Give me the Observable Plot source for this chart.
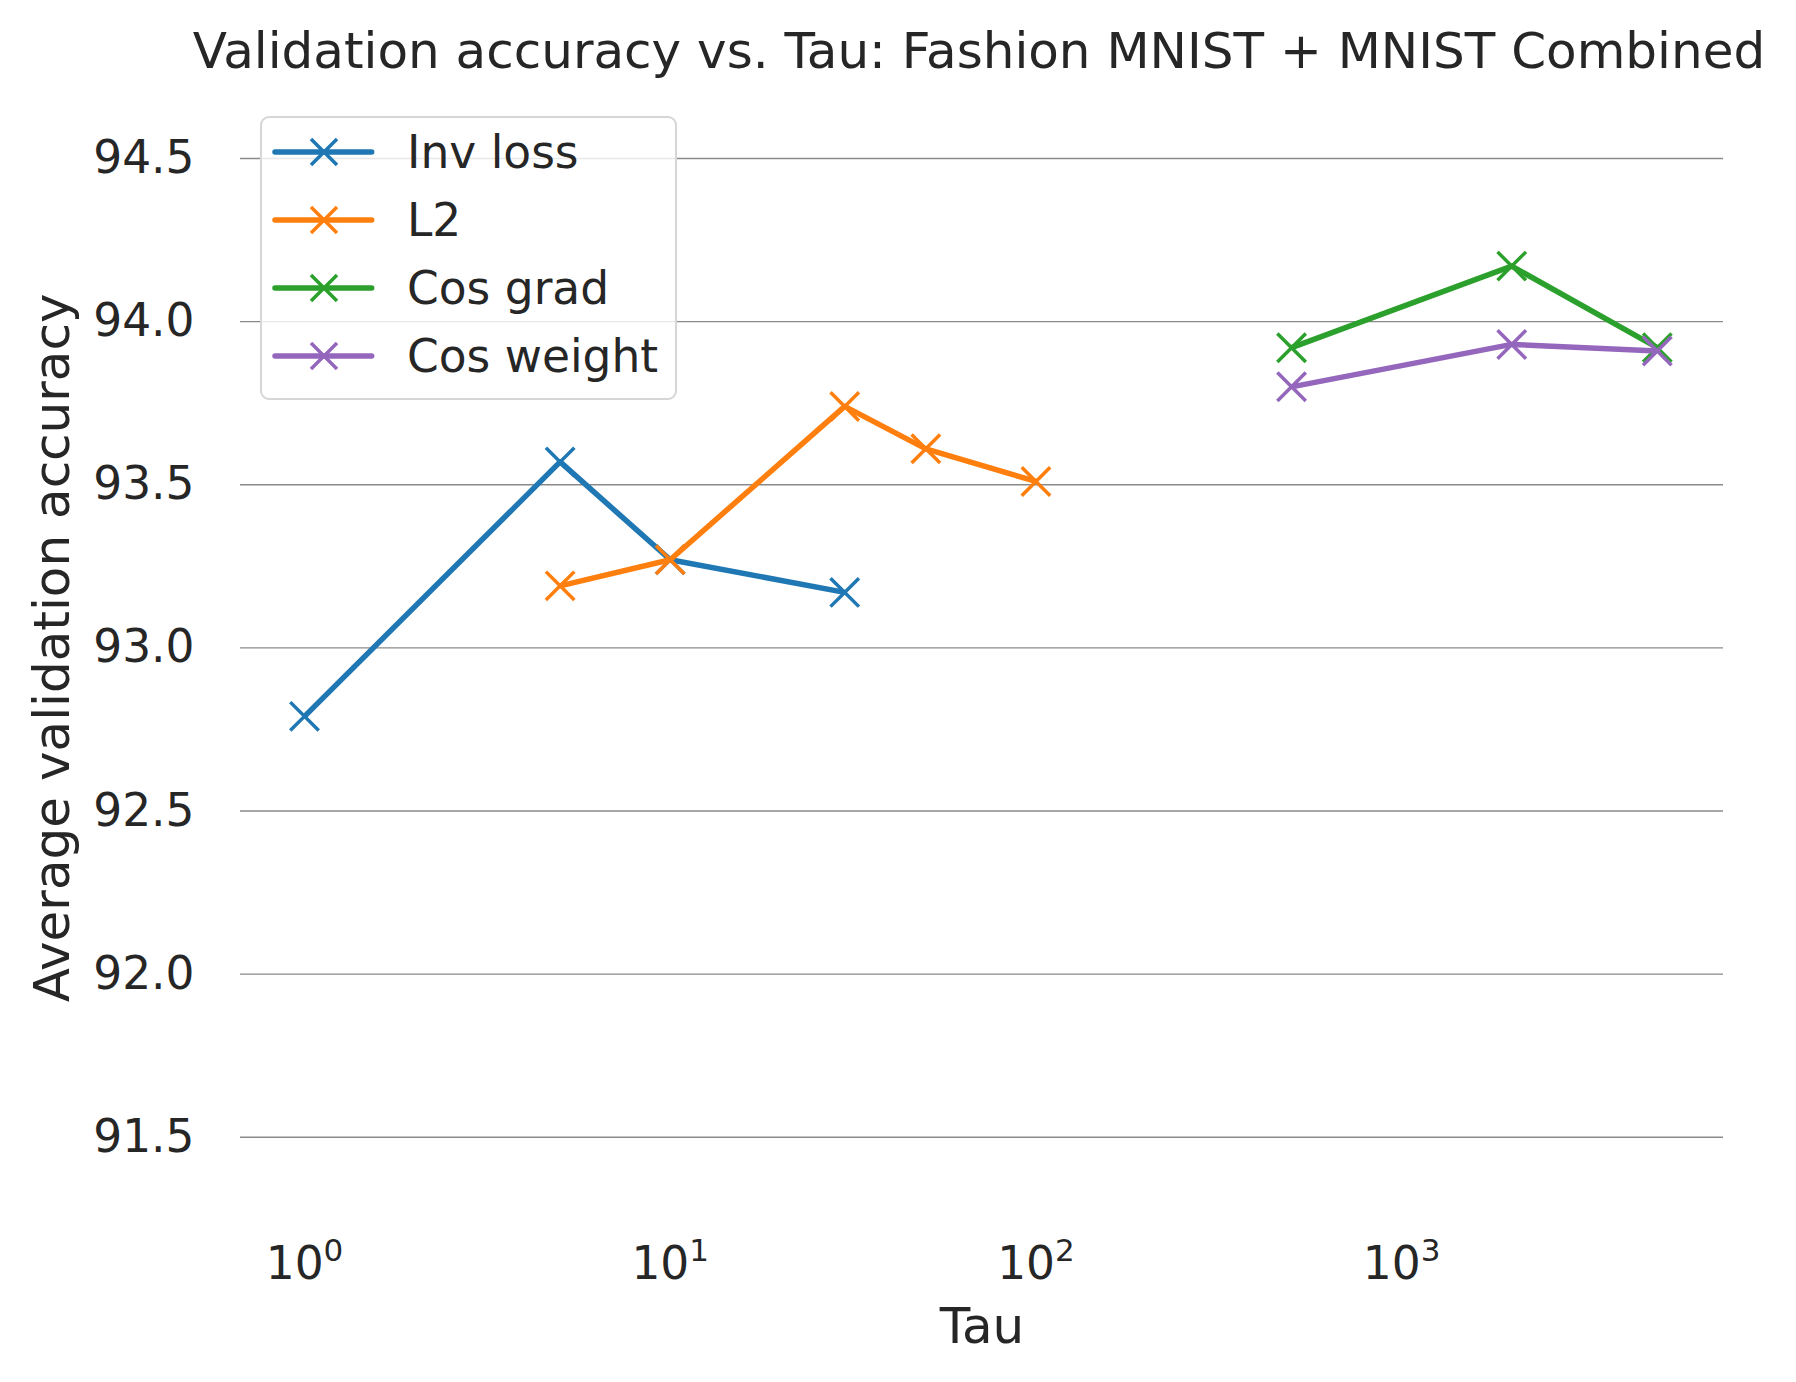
<!DOCTYPE html>
<html>
<head>
<meta charset="utf-8">
<script src="https://cdn.jsdelivr.net/npm/d3@7"></script>
<script src="https://cdn.jsdelivr.net/npm/@observablehq/plot@0.6"></script>
<style>
  html, body { margin: 0; padding: 0; background: #fff; }
  #wrap { position: relative; width: 1796px; height: 1382px; font-family: "DejaVu Sans", sans-serif; color: #262626; }
  #titlebox { position: relative; width: 1796px; height: 90px; }
  #title { position: absolute; left: 979px; top: 25.7px; transform: translateX(-50%); white-space: nowrap; font-size: 50px; line-height: 1; }
  #legend { position: absolute; left: 259.5px; top: 116px; width: 417.5px; height: 284px; box-sizing: border-box;
            border: 2.5px solid #d6d6d6; border-radius: 9px; background: rgba(255,255,255,0.8); }
  .lg-sym { position: absolute; overflow: visible; }
  .lg-txt { position: absolute; font-size: 45.5px; line-height: 1; white-space: nowrap; }
</style>
</head>
<body>
<div id="wrap">
  <div id="titlebox"><div id="title">Validation accuracy vs. Tau: Fashion MNIST + MNIST Combined</div></div>
  <div id="chart"></div>
  <div id="legend"></div>
</div>
<script>
// ---- data ----
const seriesNames = ["Inv loss", "L2", "Cos grad", "Cos weight"];
const seriesColors = ["#1f77b4", "#ff7f0e", "#2ca02c", "#9467bd"];

const invLossTau = [1, 5, 10, 30];
const invLossAcc = [92.79, 93.57, 93.27, 93.17];

const l2Tau = [5, 10, 30, 50, 100];
const l2Acc = [93.19, 93.27, 93.74, 93.61, 93.51];

const cosGradTau = [500, 2000, 5000];
const cosGradAcc = [93.92, 94.17, 93.92];

const cosWeightTau = [500, 2000, 5000];
const cosWeightAcc = [93.80, 93.93, 93.91];

const xTicks = [1, 10, 100, 1000];
const xTickBase = "10";
const xTickExponents = ["0", "1", "2", "3"];
const yTicks = [91.5, 92.0, 92.5, 93.0, 93.5, 94.0, 94.5];

const xLabel = "Tau";
const yLabel = "Average validation accuracy";

// ---- build table ----
const taus = [invLossTau, l2Tau, cosGradTau, cosWeightTau];
const accs = [invLossAcc, l2Acc, cosGradAcc, cosWeightAcc];
const seriesData = seriesNames.map((name, s) =>
  taus[s].map((t, i) => ({series: name, tau: t, acc: accs[s][i]}))
);

const marks = [
  Plot.ruleY(yTicks, {stroke: "#8a8a8a", strokeWidth: 1.4})
];
seriesData.forEach((rows, s) => {
  marks.push(Plot.line(rows, {x: "tau", y: "acc", stroke: seriesColors[s], strokeWidth: 5.5, strokeLinejoin: "round", strokeLinecap: "butt"}));
  marks.push(Plot.dot(rows, {x: "tau", y: "acc", symbol: "times", r: 13, stroke: seriesColors[s], strokeWidth: 3.5}));
});
marks.push(Plot.text([xLabel], {frameAnchor: "bottom", dy: 140, lineAnchor: "bottom", fontSize: 50, fill: "#262626"}));
marks.push(Plot.text([yLabel], {frameAnchor: "left", dx: -172, rotate: -90, textAnchor: "middle", lineAnchor: "bottom", fontSize: 50, fill: "#262626"}));

const chart = Plot.plot({
  width: 1796,
  height: 1292,
  marginTop: 2.7,
  marginBottom: 180,
  marginLeft: 240,
  marginRight: 73,
  style: {fontFamily: "DejaVu Sans", fontSize: "45.5px", color: "#262626", background: "transparent", overflow: "visible"},
  x: {type: "log", domain: [Math.pow(10, -0.175), Math.pow(10, 3.88)], ticks: xTicks,
      tickFormat: d => xTickBase + "^" + xTickExponents[xTicks.indexOf(d)], tickSize: 0, tickPadding: 43.7, label: null},
  y: {domain: [91.3, 94.7], ticks: yTicks, tickFormat: d3.format(".1f"), tickSize: 0, tickPadding: 46, label: null},
  marks
});
document.getElementById("chart").appendChild(chart);

// render exponents of the x tick labels as superscript tspans
const svgNS = "http://www.w3.org/2000/svg";
chart.querySelectorAll('g[aria-label="x-axis tick label"] text').forEach(t => {
  const s = t.textContent;
  const k = s.indexOf("^");
  if (k < 0) return;
  const base = s.slice(0, k), exp = s.slice(k + 1);
  while (t.firstChild) t.removeChild(t.firstChild);
  t.appendChild(document.createTextNode(base));
  const sup = document.createElementNS(svgNS, "tspan");
  sup.setAttribute("font-size", "31px");
  sup.setAttribute("dy", "-18");
  sup.textContent = exp;
  t.appendChild(sup);
});

// ---- legend ----
const legend = document.getElementById("legend");
const lgLeft = 259.5 + 2.5, lgTop = 116 + 2.5;
seriesNames.forEach((name, i) => {
  const cy = 152.7 + 68 * i;
  const svg = document.createElementNS(svgNS, "svg");
  svg.setAttribute("class", "lg-sym");
  svg.setAttribute("width", 110);
  svg.setAttribute("height", 40);
  svg.style.left = (270 - lgLeft) + "px";
  svg.style.top = (cy - 20 - lgTop) + "px";
  const line = document.createElementNS(svgNS, "line");
  line.setAttribute("x1", 275 - 270); line.setAttribute("x2", 371.7 - 270);
  line.setAttribute("y1", 20); line.setAttribute("y2", 20);
  line.setAttribute("stroke", seriesColors[i]); line.setAttribute("stroke-width", 5.5);
  line.setAttribute("stroke-linecap", "round");
  svg.appendChild(line);
  const mx = 324 - 270, h = 13;
  const p = document.createElementNS(svgNS, "path");
  p.setAttribute("d", `M${mx - h},${20 - h}L${mx + h},${20 + h}M${mx - h},${20 + h}L${mx + h},${20 - h}`);
  p.setAttribute("stroke", seriesColors[i]); p.setAttribute("stroke-width", 3.5); p.setAttribute("fill", "none");
  svg.appendChild(p);
  legend.appendChild(svg);
  const t = document.createElement("div");
  t.className = "lg-txt";
  t.textContent = name;
  t.style.left = (407.5 - lgLeft) + "px";
  t.style.top = (cy - 21.9 - lgTop) + "px";
  legend.appendChild(t);
});
</script>
</body>
</html>
